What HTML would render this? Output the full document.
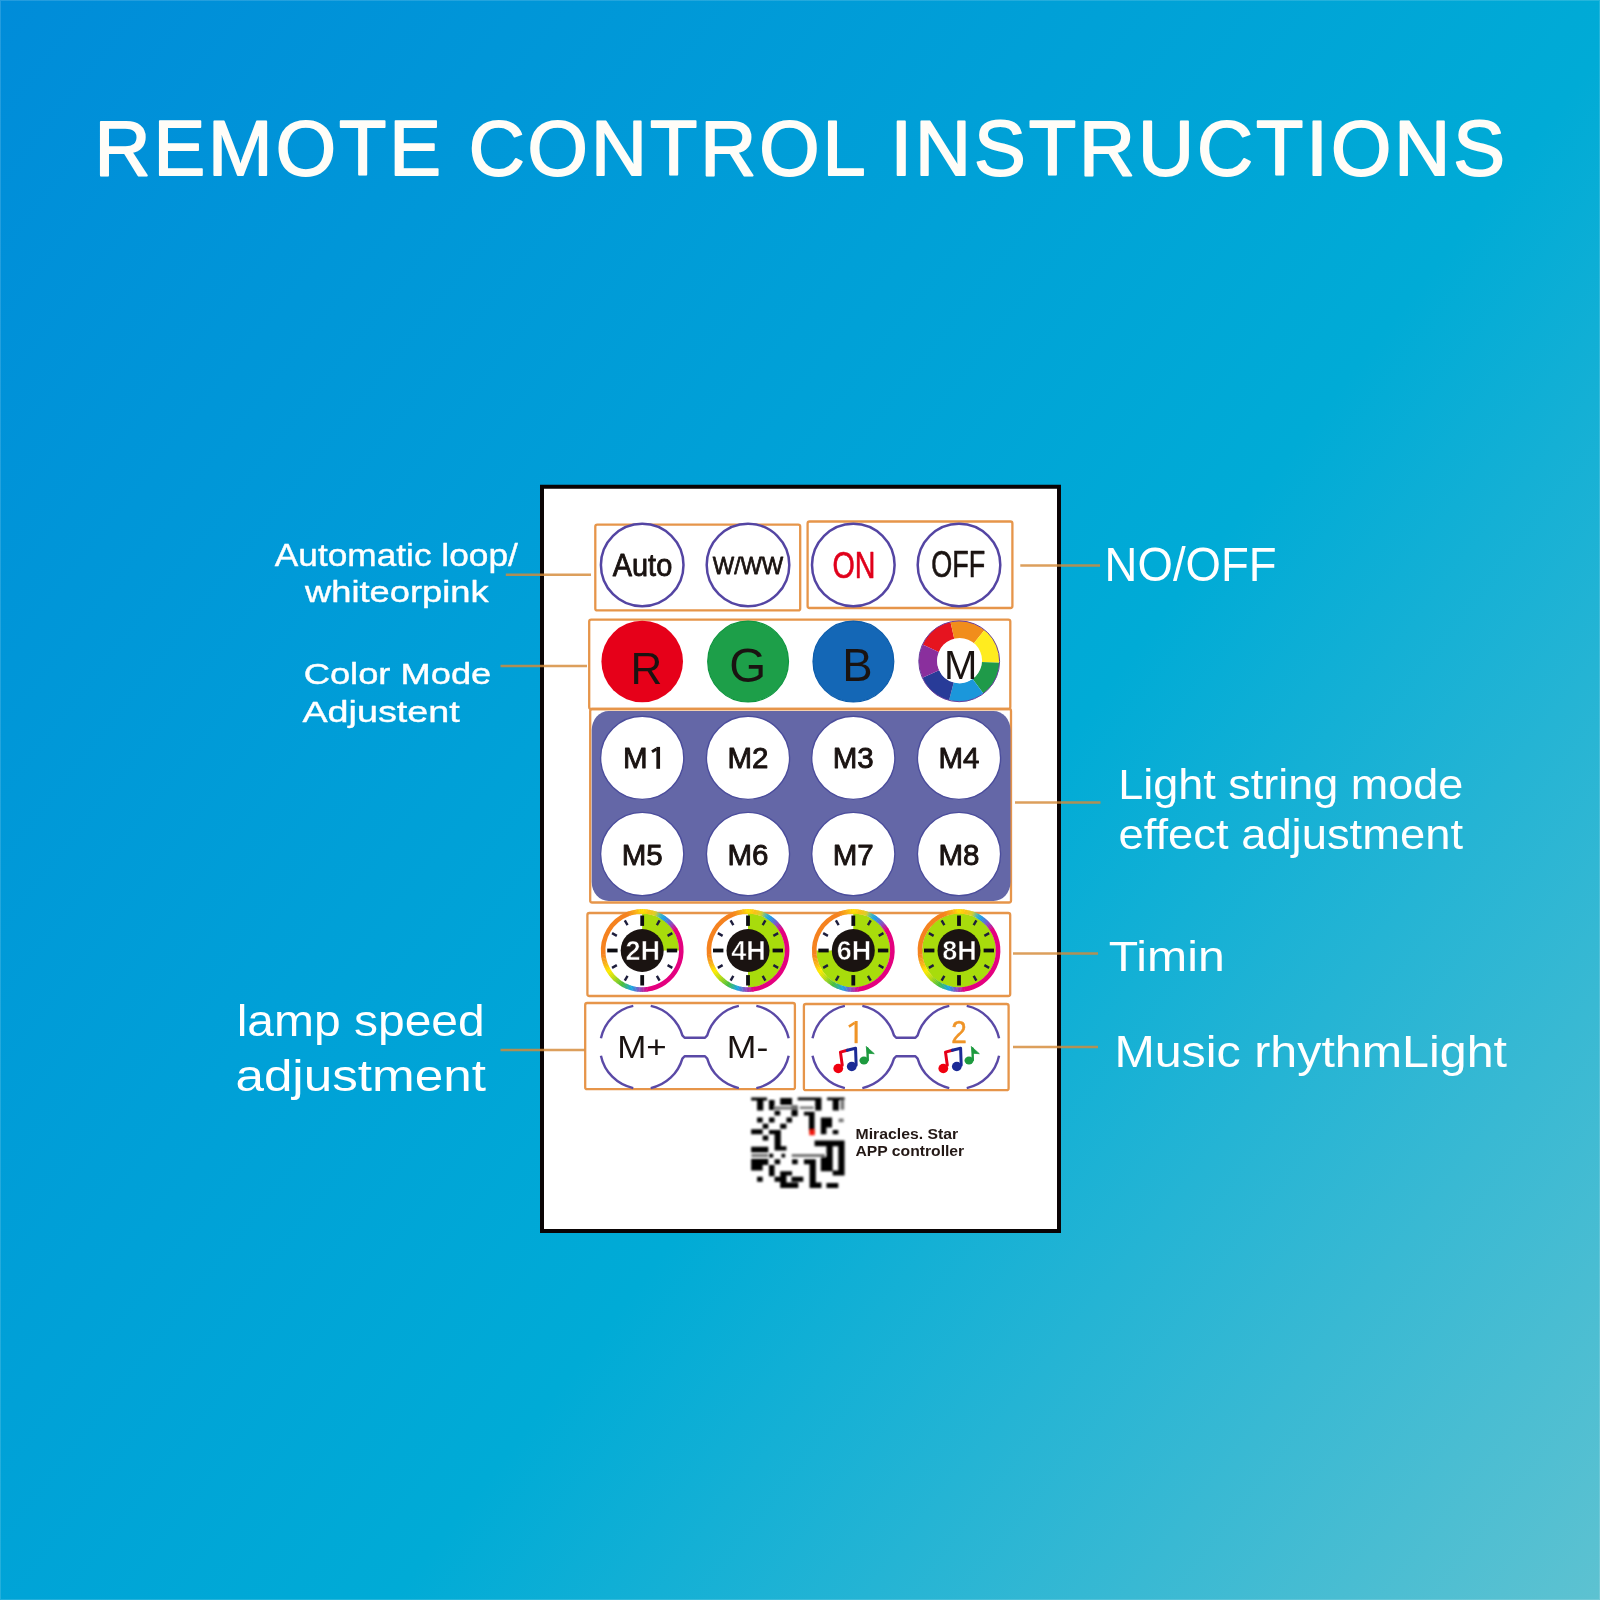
<!DOCTYPE html>
<html>
<head>
<meta charset="utf-8">
<title>Remote Control Instructions</title>
<style>
html,body{margin:0;padding:0;width:1600px;height:1600px;overflow:hidden;background:#00a5d7;}
svg{display:block;position:absolute;left:0;top:0;will-change:transform;}
text{font-family:"Liberation Sans",sans-serif;}
</style>
</head>
<body>
<svg width="1600" height="1600" viewBox="0 0 1600 1600">
<defs>
  <linearGradient id="bg" gradientUnits="userSpaceOnUse" x1="-84.9" y1="108.6" x2="1684.9" y2="1491.4">
    <stop offset="0" stop-color="#008cd9"/>
    <stop offset="0.576" stop-color="#00abd6"/>
    <stop offset="1" stop-color="#5dc2d1"/>
  </linearGradient>
  <g id="ring" fill="none" stroke-width="4.6"><path d="M-0.20,-39.10A39.1,39.1 0 0 1 1.57,-39.07" stroke="#ffde02"/><path d="M1.16,-39.08A39.1,39.1 0 0 1 2.93,-38.99" stroke="#fed707"/><path d="M2.52,-39.02A39.1,39.1 0 0 1 4.29,-38.86" stroke="#fdd10c"/><path d="M3.88,-38.91A39.1,39.1 0 0 1 5.64,-38.69" stroke="#fccb10"/><path d="M5.24,-38.75A39.1,39.1 0 0 1 6.99,-38.47" stroke="#fbc415"/><path d="M6.59,-38.54A39.1,39.1 0 0 1 8.33,-38.20" stroke="#f8c219"/><path d="M7.93,-38.29A39.1,39.1 0 0 1 9.66,-37.89" stroke="#f1c61d"/><path d="M9.26,-37.99A39.1,39.1 0 0 1 10.97,-37.53" stroke="#eac820"/><path d="M10.58,-37.64A39.1,39.1 0 0 1 12.28,-37.12" stroke="#e3cc24"/><path d="M11.89,-37.25A39.1,39.1 0 0 1 13.57,-36.67" stroke="#dcce28"/><path d="M13.18,-36.81A39.1,39.1 0 0 1 14.84,-36.18" stroke="#c6cc3d"/><path d="M14.46,-36.33A39.1,39.1 0 0 1 16.09,-35.64" stroke="#9fc562"/><path d="M15.72,-35.80A39.1,39.1 0 0 1 17.32,-35.05" stroke="#79be88"/><path d="M16.96,-35.23A39.1,39.1 0 0 1 18.54,-34.43" stroke="#52b7ad"/><path d="M18.18,-34.62A39.1,39.1 0 0 1 19.73,-33.76" stroke="#39b0c6"/><path d="M19.37,-33.96A39.1,39.1 0 0 1 20.89,-33.05" stroke="#2ca9d3"/><path d="M20.55,-33.27A39.1,39.1 0 0 1 22.03,-32.30" stroke="#20a2e0"/><path d="M21.69,-32.53A39.1,39.1 0 0 1 23.15,-31.51" stroke="#2299e4"/><path d="M22.82,-31.75A39.1,39.1 0 0 1 24.23,-30.68" stroke="#328dde"/><path d="M23.91,-30.94A39.1,39.1 0 0 1 25.29,-29.82" stroke="#4281da"/><path d="M24.98,-30.08A39.1,39.1 0 0 1 26.31,-28.92" stroke="#5276d4"/><path d="M26.01,-29.19A39.1,39.1 0 0 1 27.31,-27.98" stroke="#626ad0"/><path d="M27.01,-28.27A39.1,39.1 0 0 1 28.27,-27.01" stroke="#725eca"/><path d="M27.98,-27.31A39.1,39.1 0 0 1 29.19,-26.01" stroke="#8351c2"/><path d="M28.92,-26.31A39.1,39.1 0 0 1 30.08,-24.98" stroke="#9442b6"/><path d="M29.82,-25.29A39.1,39.1 0 0 1 30.94,-23.91" stroke="#a633aa"/><path d="M30.68,-24.23A39.1,39.1 0 0 1 31.75,-22.82" stroke="#b8259d"/><path d="M31.51,-23.15A39.1,39.1 0 0 1 32.53,-21.69" stroke="#ca1691"/><path d="M32.30,-22.03A39.1,39.1 0 0 1 33.27,-20.55" stroke="#db0785"/><path d="M33.01,-20.95A39.1,39.1 0 0 1 5.17,38.76" stroke="#e4007f"/><path d="M5.64,38.69A39.1,39.1 0 0 1 3.88,38.91" stroke="#dc0784"/><path d="M4.29,38.86A39.1,39.1 0 0 1 2.52,39.02" stroke="#ce148f"/><path d="M2.93,38.99A39.1,39.1 0 0 1 1.16,39.08" stroke="#be219a"/><path d="M1.57,39.07A39.1,39.1 0 0 1 -0.20,39.10" stroke="#b02fa5"/><path d="M0.20,39.10A39.1,39.1 0 0 1 -1.57,39.07" stroke="#a03cb0"/><path d="M-1.16,39.08A39.1,39.1 0 0 1 -2.93,38.99" stroke="#9249bb"/><path d="M-2.52,39.02A39.1,39.1 0 0 1 -4.29,38.86" stroke="#8157c3"/><path d="M-3.88,38.91A39.1,39.1 0 0 1 -5.64,38.69" stroke="#6e66ca"/><path d="M-5.24,38.75A39.1,39.1 0 0 1 -6.99,38.47" stroke="#5b74d0"/><path d="M-6.59,38.54A39.1,39.1 0 0 1 -8.33,38.20" stroke="#4982d6"/><path d="M-7.93,38.29A39.1,39.1 0 0 1 -9.66,37.89" stroke="#3690dc"/><path d="M-9.26,37.99A39.1,39.1 0 0 1 -10.97,37.53" stroke="#239fe3"/><path d="M-10.58,37.64A39.1,39.1 0 0 1 -12.28,37.12" stroke="#1da8db"/><path d="M-11.89,37.25A39.1,39.1 0 0 1 -13.57,36.67" stroke="#23abc4"/><path d="M-13.18,36.81A39.1,39.1 0 0 1 -14.84,36.18" stroke="#2aaead"/><path d="M-14.46,36.33A39.1,39.1 0 0 1 -16.09,35.64" stroke="#30b296"/><path d="M-15.72,35.80A39.1,39.1 0 0 1 -17.32,35.05" stroke="#36b57f"/><path d="M-16.96,35.23A39.1,39.1 0 0 1 -18.54,34.43" stroke="#3cb868"/><path d="M-18.18,34.62A39.1,39.1 0 0 1 -19.73,33.76" stroke="#43bc51"/><path d="M-19.37,33.96A39.1,39.1 0 0 1 -20.89,33.05" stroke="#49bf3a"/><path d="M-20.55,33.27A39.1,39.1 0 0 1 -22.03,32.30" stroke="#58c335"/><path d="M-21.69,32.53A39.1,39.1 0 0 1 -23.15,31.51" stroke="#67c730"/><path d="M-22.82,31.75A39.1,39.1 0 0 1 -24.23,30.68" stroke="#76cb2c"/><path d="M-23.91,30.94A39.1,39.1 0 0 1 -25.29,29.82" stroke="#85ce27"/><path d="M-24.98,30.08A39.1,39.1 0 0 1 -26.31,28.92" stroke="#94d222"/><path d="M-26.01,29.19A39.1,39.1 0 0 1 -27.31,27.98" stroke="#a3d61d"/><path d="M-27.01,28.27A39.1,39.1 0 0 1 -28.27,27.01" stroke="#b2da18"/><path d="M-27.98,27.31A39.1,39.1 0 0 1 -29.19,26.01" stroke="#bedd14"/><path d="M-28.92,26.31A39.1,39.1 0 0 1 -30.08,24.98" stroke="#c9df11"/><path d="M-29.82,25.29A39.1,39.1 0 0 1 -30.94,23.91" stroke="#d4e10e"/><path d="M-30.68,24.23A39.1,39.1 0 0 1 -31.75,22.82" stroke="#dfe40a"/><path d="M-31.51,23.15A39.1,39.1 0 0 1 -32.53,21.69" stroke="#e9e607"/><path d="M-32.30,22.03A39.1,39.1 0 0 1 -33.27,20.55" stroke="#f4e803"/><path d="M-33.05,20.89A39.1,39.1 0 0 1 -33.96,19.37" stroke="#ffea00"/><path d="M-33.76,19.73A39.1,39.1 0 0 1 -34.62,18.18" stroke="#fee004"/><path d="M-34.43,18.54A39.1,39.1 0 0 1 -35.23,16.96" stroke="#fdd609"/><path d="M-35.05,17.32A39.1,39.1 0 0 1 -35.80,15.72" stroke="#fccd0d"/><path d="M-35.64,16.09A39.1,39.1 0 0 1 -36.33,14.46" stroke="#fbc311"/><path d="M-36.18,14.84A39.1,39.1 0 0 1 -36.81,13.18" stroke="#fab916"/><path d="M-36.67,13.57A39.1,39.1 0 0 1 -37.25,11.89" stroke="#f9b018"/><path d="M-37.12,12.28A39.1,39.1 0 0 1 -37.64,10.58" stroke="#f8a91a"/><path d="M-37.53,10.97A39.1,39.1 0 0 1 -37.99,9.26" stroke="#f8a21a"/><path d="M-37.89,9.66A39.1,39.1 0 0 1 -38.29,7.93" stroke="#f79b1c"/><path d="M-38.20,8.33A39.1,39.1 0 0 1 -38.54,6.59" stroke="#f6941c"/><path d="M-38.47,6.99A39.1,39.1 0 0 1 -38.75,5.24" stroke="#f68d1e"/><path d="M-38.69,5.64A39.1,39.1 0 0 1 -38.91,3.88" stroke="#f5861e"/><path d="M-38.86,4.36A39.1,39.1 0 0 1 -14.39,-36.35" stroke="#f5821f"/><path d="M-14.84,-36.18A39.1,39.1 0 0 1 -13.18,-36.81" stroke="#f5861e"/><path d="M-13.57,-36.67A39.1,39.1 0 0 1 -11.89,-37.25" stroke="#f68d1d"/><path d="M-12.28,-37.12A39.1,39.1 0 0 1 -10.58,-37.64" stroke="#f7951c"/><path d="M-10.97,-37.53A39.1,39.1 0 0 1 -9.26,-37.99" stroke="#f89c1a"/><path d="M-9.66,-37.89A39.1,39.1 0 0 1 -7.93,-38.29" stroke="#f9a319"/><path d="M-8.33,-38.20A39.1,39.1 0 0 1 -6.59,-38.54" stroke="#faab18"/><path d="M-6.99,-38.47A39.1,39.1 0 0 1 -5.24,-38.75" stroke="#fbb217"/><path d="M-5.64,-38.69A39.1,39.1 0 0 1 -3.88,-38.91" stroke="#fcbb13"/><path d="M-4.29,-38.86A39.1,39.1 0 0 1 -2.52,-39.02" stroke="#fcc60e"/><path d="M-2.93,-38.99A39.1,39.1 0 0 1 -1.16,-39.08" stroke="#fed108"/><path d="M-1.57,-39.07A39.1,39.1 0 0 1 0.20,-39.10" stroke="#fedc03"/></g>
  <filter id="qb" x="-5%" y="-5%" width="110%" height="110%"><feGaussianBlur stdDeviation="0.85"/></filter>
</defs>
<rect width="1600" height="1600" fill="url(#bg)"/>
<!-- thin lighter frame on the image edge -->
<rect x="0.5" y="0.5" width="1599" height="1599" fill="none" stroke="#ffffff" stroke-opacity="0.14" stroke-width="1"/>

<!-- TITLE -->
<text x="94.4" y="175" font-size="77.5" fill="#fffdf8" stroke="#fffdf8" stroke-width="1.8" stroke-linejoin="round" textLength="1410.5" lengthAdjust="spacing">REMOTE CONTROL INSTRUCTIONS</text>

<!-- CARD -->
<rect x="542" y="486.75" width="517" height="744.25" fill="#ffffff" stroke="#0a0405" stroke-width="4"/>

<!-- CARD CONTENT -->
<rect x="595.3" y="524.6" width="204.9000000000001" height="85.79999999999995" rx="2" fill="none" stroke="#e6954a" stroke-width="2.3"/>
<rect x="807.6" y="521.5" width="204.79999999999995" height="86.5" rx="2" fill="none" stroke="#e6954a" stroke-width="2.3"/>
<rect x="589.2" y="619.6" width="421.0999999999999" height="89.39999999999998" rx="2" fill="none" stroke="#e6954a" stroke-width="2.3"/>
<rect x="590.2" y="709" width="420.79999999999995" height="193.5" rx="2" fill="none" stroke="#e6954a" stroke-width="2.3"/>
<rect x="587.4" y="913" width="422.80000000000007" height="83" rx="2" fill="none" stroke="#e6954a" stroke-width="2.3"/>
<rect x="585.2" y="1003" width="209.69999999999993" height="86.20000000000005" rx="2" fill="none" stroke="#e6954a" stroke-width="2.3"/>
<rect x="803.9" y="1004" width="204.70000000000005" height="86.20000000000005" rx="2" fill="none" stroke="#e6954a" stroke-width="2.3"/>
<circle cx="642.2" cy="565" r="41.3" fill="#fff" stroke="#5445a3" stroke-width="2.5"/>
<circle cx="748" cy="565" r="41.3" fill="#fff" stroke="#5445a3" stroke-width="2.5"/>
<circle cx="853.3" cy="565" r="41.3" fill="#fff" stroke="#5445a3" stroke-width="2.5"/>
<circle cx="959" cy="565" r="41.3" fill="#fff" stroke="#5445a3" stroke-width="2.5"/>
<text x="642.5" y="576.2" font-size="31" fill="#1a1311" text-anchor="middle" textLength="59.5" lengthAdjust="spacingAndGlyphs" stroke="#1a1311" stroke-width="0.85" stroke-linejoin="round">Auto</text>
<text x="748" y="573.6" font-size="24.5" fill="#1a1311" text-anchor="middle" textLength="70.5" lengthAdjust="spacingAndGlyphs" stroke="#1a1311" stroke-width="0.8" stroke-linejoin="round">W/WW</text>
<text x="854" y="578" font-size="37" fill="#e0001b" text-anchor="middle" textLength="43" lengthAdjust="spacingAndGlyphs" stroke="#e0001b" stroke-width="0.6" stroke-linejoin="round">ON</text>
<text x="958.2" y="577.4" font-size="36" fill="#1a1311" text-anchor="middle" textLength="54" lengthAdjust="spacingAndGlyphs" stroke="#1a1311" stroke-width="0.6" stroke-linejoin="round">OFF</text>
<circle cx="642.2" cy="661.5" r="40.8" fill="#e60019"/>
<circle cx="748.1" cy="661.5" r="40.4" fill="#1d9f49" stroke="#0f9640" stroke-width="1.2"/>
<circle cx="853.4" cy="661.5" r="40.4" fill="#1467b6" stroke="#0b5cac" stroke-width="1.2"/>
<text x="646.5" y="683.6" font-size="44" fill="#1a1311" text-anchor="middle">R</text>
<text x="747.8" y="682.4" font-size="47.5" fill="#1a1311" text-anchor="middle">G</text>
<text x="857.4" y="680.8" font-size="45.5" fill="#1a1311" text-anchor="middle">B</text>
<path d="M922.65,644.57A40.2,40.2 0 0 1 950.50,622.05L954.44,639.82A22,22 0 0 0 939.20,652.14Z" fill="#e6141f"/>
<path d="M950.50,622.05A40.2,40.2 0 0 1 984.50,630.06L973.05,644.20A22,22 0 0 0 954.44,639.82Z" fill="#f18d1b"/>
<path d="M984.50,630.06A40.2,40.2 0 0 1 999.38,662.70L981.19,662.07A22,22 0 0 0 973.05,644.20Z" fill="#ffec1f"/>
<path d="M999.38,662.70A40.2,40.2 0 0 1 983.39,693.41L972.44,678.87A22,22 0 0 0 981.19,662.07Z" fill="#1f9a49"/>
<path d="M983.39,693.41A40.2,40.2 0 0 1 949.13,700.22L953.69,682.60A22,22 0 0 0 972.44,678.87Z" fill="#1b97db"/>
<path d="M949.13,700.22A40.2,40.2 0 0 1 922.48,677.65L939.10,670.25A22,22 0 0 0 953.69,682.60Z" fill="#283b98"/>
<path d="M922.48,677.65A40.2,40.2 0 0 1 922.65,644.57L939.20,652.14A22,22 0 0 0 939.10,670.25Z" fill="#8a2f9d"/>
<circle cx="959.2" cy="661.3" r="40.4" fill="none" stroke="#6a3f9e" stroke-width="1"/>
<circle cx="959.6" cy="660.5" r="22.5" fill="#fff"/>
<text x="960.6" y="679.4" font-size="40" fill="#1a1311" text-anchor="middle">M</text>
<rect x="591.7" y="711" width="418.8" height="190" rx="17" ry="19" fill="#6467a7"/>
<circle cx="642.2" cy="757.8" r="41.6" fill="#fff" stroke="#4b4d9c" stroke-width="1.4"/>
<text x="635.3000000000001" y="768.4" font-size="29.5" fill="#1a1311" text-anchor="middle" stroke="#1a1311" stroke-width="0.9" stroke-linejoin="round">M</text>
<path d="M652.00,751.74L656.55,748.93" stroke="#1a1311" stroke-width="3.03" fill="none" stroke-linecap="butt"/><rect x="656.35" y="746.90" width="3.7" height="21.90" fill="#1a1311"/>
<circle cx="748" cy="757.8" r="41.6" fill="#fff" stroke="#4b4d9c" stroke-width="1.4"/>
<text x="748" y="768.4" font-size="29.5" fill="#1a1311" text-anchor="middle" stroke="#1a1311" stroke-width="0.9" stroke-linejoin="round">M2</text>
<circle cx="853.3" cy="757.8" r="41.6" fill="#fff" stroke="#4b4d9c" stroke-width="1.4"/>
<text x="853.3" y="768.4" font-size="29.5" fill="#1a1311" text-anchor="middle" stroke="#1a1311" stroke-width="0.9" stroke-linejoin="round">M3</text>
<circle cx="959" cy="757.8" r="41.6" fill="#fff" stroke="#4b4d9c" stroke-width="1.4"/>
<text x="959" y="768.4" font-size="29.5" fill="#1a1311" text-anchor="middle" stroke="#1a1311" stroke-width="0.9" stroke-linejoin="round">M4</text>
<circle cx="642.2" cy="854" r="41.6" fill="#fff" stroke="#4b4d9c" stroke-width="1.4"/>
<text x="642.2" y="864.6" font-size="29.5" fill="#1a1311" text-anchor="middle" stroke="#1a1311" stroke-width="0.9" stroke-linejoin="round">M5</text>
<circle cx="748" cy="854" r="41.6" fill="#fff" stroke="#4b4d9c" stroke-width="1.4"/>
<text x="748" y="864.6" font-size="29.5" fill="#1a1311" text-anchor="middle" stroke="#1a1311" stroke-width="0.9" stroke-linejoin="round">M6</text>
<circle cx="853.3" cy="854" r="41.6" fill="#fff" stroke="#4b4d9c" stroke-width="1.4"/>
<text x="853.3" y="864.6" font-size="29.5" fill="#1a1311" text-anchor="middle" stroke="#1a1311" stroke-width="0.9" stroke-linejoin="round">M7</text>
<circle cx="959" cy="854" r="41.6" fill="#fff" stroke="#4b4d9c" stroke-width="1.4"/>
<text x="959" y="864.6" font-size="29.5" fill="#1a1311" text-anchor="middle" stroke="#1a1311" stroke-width="0.9" stroke-linejoin="round">M8</text>
<path d="M642.2,950.5L642.2,913.5A37,37 0 0 1 679.20,950.50Z" fill="#a8dc0c"/>
<use href="#ring" x="642.2" y="950.5"/>
<line x1="642.20" y1="925.90" x2="642.20" y2="915.50" stroke="#0d0d12" stroke-width="3.8"/>
<line x1="656.85" y1="925.13" x2="659.60" y2="920.36" stroke="#1d1d3c" stroke-width="2.4"/>
<line x1="667.57" y1="935.85" x2="672.34" y2="933.10" stroke="#1d1d3c" stroke-width="2.4"/>
<line x1="666.80" y1="950.50" x2="677.20" y2="950.50" stroke="#0d0d12" stroke-width="3.8"/>
<line x1="667.57" y1="965.15" x2="672.34" y2="967.90" stroke="#1d1d3c" stroke-width="2.4"/>
<line x1="656.85" y1="975.87" x2="659.60" y2="980.64" stroke="#1d1d3c" stroke-width="2.4"/>
<line x1="642.20" y1="975.10" x2="642.20" y2="985.50" stroke="#0d0d12" stroke-width="3.8"/>
<line x1="627.55" y1="975.87" x2="624.80" y2="980.64" stroke="#1d1d3c" stroke-width="2.4"/>
<line x1="616.83" y1="965.15" x2="612.06" y2="967.90" stroke="#1d1d3c" stroke-width="2.4"/>
<line x1="617.60" y1="950.50" x2="607.20" y2="950.50" stroke="#0d0d12" stroke-width="3.8"/>
<line x1="616.83" y1="935.85" x2="612.06" y2="933.10" stroke="#1d1d3c" stroke-width="2.4"/>
<line x1="627.55" y1="925.13" x2="624.80" y2="920.36" stroke="#1d1d3c" stroke-width="2.4"/>
<circle cx="642.2" cy="950.5" r="21.5" fill="#1a1311"/>
<text x="642.8000000000001" y="960.4" font-size="27" fill="#fff" text-anchor="middle" font-weight="bold" textLength="34.5" lengthAdjust="spacingAndGlyphs" stroke="#1a1311" stroke-width="0.55" stroke-linejoin="round">2H</text>
<path d="M748,950.5L748,913.5A37,37 0 0 1 748.00,987.50Z" fill="#a8dc0c"/>
<use href="#ring" x="748" y="950.5"/>
<line x1="748.00" y1="925.90" x2="748.00" y2="915.50" stroke="#0d0d12" stroke-width="3.8"/>
<line x1="762.65" y1="925.13" x2="765.40" y2="920.36" stroke="#1d1d3c" stroke-width="2.4"/>
<line x1="773.37" y1="935.85" x2="778.14" y2="933.10" stroke="#1d1d3c" stroke-width="2.4"/>
<line x1="772.60" y1="950.50" x2="783.00" y2="950.50" stroke="#0d0d12" stroke-width="3.8"/>
<line x1="773.37" y1="965.15" x2="778.14" y2="967.90" stroke="#1d1d3c" stroke-width="2.4"/>
<line x1="762.65" y1="975.87" x2="765.40" y2="980.64" stroke="#1d1d3c" stroke-width="2.4"/>
<line x1="748.00" y1="975.10" x2="748.00" y2="985.50" stroke="#0d0d12" stroke-width="3.8"/>
<line x1="733.35" y1="975.87" x2="730.60" y2="980.64" stroke="#1d1d3c" stroke-width="2.4"/>
<line x1="722.63" y1="965.15" x2="717.86" y2="967.90" stroke="#1d1d3c" stroke-width="2.4"/>
<line x1="723.40" y1="950.50" x2="713.00" y2="950.50" stroke="#0d0d12" stroke-width="3.8"/>
<line x1="722.63" y1="935.85" x2="717.86" y2="933.10" stroke="#1d1d3c" stroke-width="2.4"/>
<line x1="733.35" y1="925.13" x2="730.60" y2="920.36" stroke="#1d1d3c" stroke-width="2.4"/>
<circle cx="748" cy="950.5" r="21.5" fill="#1a1311"/>
<text x="748.6" y="960.4" font-size="27" fill="#fff" text-anchor="middle" font-weight="bold" textLength="34.5" lengthAdjust="spacingAndGlyphs" stroke="#1a1311" stroke-width="0.55" stroke-linejoin="round">4H</text>
<path d="M853.3,950.5L853.3,913.5A37,37 0 1 1 816.30,950.50Z" fill="#a8dc0c"/>
<use href="#ring" x="853.3" y="950.5"/>
<line x1="853.30" y1="925.90" x2="853.30" y2="915.50" stroke="#0d0d12" stroke-width="3.8"/>
<line x1="867.95" y1="925.13" x2="870.70" y2="920.36" stroke="#1d1d3c" stroke-width="2.4"/>
<line x1="878.67" y1="935.85" x2="883.44" y2="933.10" stroke="#1d1d3c" stroke-width="2.4"/>
<line x1="877.90" y1="950.50" x2="888.30" y2="950.50" stroke="#0d0d12" stroke-width="3.8"/>
<line x1="878.67" y1="965.15" x2="883.44" y2="967.90" stroke="#1d1d3c" stroke-width="2.4"/>
<line x1="867.95" y1="975.87" x2="870.70" y2="980.64" stroke="#1d1d3c" stroke-width="2.4"/>
<line x1="853.30" y1="975.10" x2="853.30" y2="985.50" stroke="#0d0d12" stroke-width="3.8"/>
<line x1="838.65" y1="975.87" x2="835.90" y2="980.64" stroke="#1d1d3c" stroke-width="2.4"/>
<line x1="827.93" y1="965.15" x2="823.16" y2="967.90" stroke="#1d1d3c" stroke-width="2.4"/>
<line x1="828.70" y1="950.50" x2="818.30" y2="950.50" stroke="#0d0d12" stroke-width="3.8"/>
<line x1="827.93" y1="935.85" x2="823.16" y2="933.10" stroke="#1d1d3c" stroke-width="2.4"/>
<line x1="838.65" y1="925.13" x2="835.90" y2="920.36" stroke="#1d1d3c" stroke-width="2.4"/>
<circle cx="853.3" cy="950.5" r="21.5" fill="#1a1311"/>
<text x="853.9" y="960.4" font-size="27" fill="#fff" text-anchor="middle" font-weight="bold" textLength="34.5" lengthAdjust="spacingAndGlyphs" stroke="#1a1311" stroke-width="0.55" stroke-linejoin="round">6H</text>
<circle cx="959" cy="950.5" r="37" fill="#a8dc0c"/>
<use href="#ring" x="959" y="950.5"/>
<line x1="959.00" y1="925.90" x2="959.00" y2="915.50" stroke="#0d0d12" stroke-width="3.8"/>
<line x1="973.65" y1="925.13" x2="976.40" y2="920.36" stroke="#1d1d3c" stroke-width="2.4"/>
<line x1="984.37" y1="935.85" x2="989.14" y2="933.10" stroke="#1d1d3c" stroke-width="2.4"/>
<line x1="983.60" y1="950.50" x2="994.00" y2="950.50" stroke="#0d0d12" stroke-width="3.8"/>
<line x1="984.37" y1="965.15" x2="989.14" y2="967.90" stroke="#1d1d3c" stroke-width="2.4"/>
<line x1="973.65" y1="975.87" x2="976.40" y2="980.64" stroke="#1d1d3c" stroke-width="2.4"/>
<line x1="959.00" y1="975.10" x2="959.00" y2="985.50" stroke="#0d0d12" stroke-width="3.8"/>
<line x1="944.35" y1="975.87" x2="941.60" y2="980.64" stroke="#1d1d3c" stroke-width="2.4"/>
<line x1="933.63" y1="965.15" x2="928.86" y2="967.90" stroke="#1d1d3c" stroke-width="2.4"/>
<line x1="934.40" y1="950.50" x2="924.00" y2="950.50" stroke="#0d0d12" stroke-width="3.8"/>
<line x1="933.63" y1="935.85" x2="928.86" y2="933.10" stroke="#1d1d3c" stroke-width="2.4"/>
<line x1="944.35" y1="925.13" x2="941.60" y2="920.36" stroke="#1d1d3c" stroke-width="2.4"/>
<circle cx="959" cy="950.5" r="21.5" fill="#1a1311"/>
<text x="959.6" y="960.4" font-size="27" fill="#fff" text-anchor="middle" font-weight="bold" textLength="34.5" lengthAdjust="spacingAndGlyphs" stroke="#1a1311" stroke-width="0.55" stroke-linejoin="round">8H</text>
<path d="M650.73,1005.92A42,42 0 0 1 682.37,1035.42L684.58,1037.75L705.02,1037.75L707.23,1035.42A42,42 0 0 1 738.87,1005.92M650.73,1088.08A42,42 0 0 0 682.37,1058.58L684.58,1056.25L705.02,1056.25L707.23,1058.58A42,42 0 0 0 738.87,1088.08M633.27,1005.92A42,42 0 0 0 600.92,1038.27M600.92,1055.73A42,42 0 0 0 633.27,1088.08M756.33,1005.92A42,42 0 0 1 788.68,1038.27M788.68,1055.73A42,42 0 0 1 756.33,1088.08" fill="none" stroke="#5a49a6" stroke-width="2.4" stroke-linejoin="round"/>
<path d="M862.33,1005.92A42,42 0 0 1 893.97,1035.42L896.18,1037.75L915.42,1037.75L917.63,1035.42A42,42 0 0 1 949.27,1005.92M862.33,1088.08A42,42 0 0 0 893.97,1058.58L896.18,1056.25L915.42,1056.25L917.63,1058.58A42,42 0 0 0 949.27,1088.08M844.87,1005.92A42,42 0 0 0 812.52,1038.27M812.52,1055.73A42,42 0 0 0 844.87,1088.08M966.73,1005.92A42,42 0 0 1 999.08,1038.27M999.08,1055.73A42,42 0 0 1 966.73,1088.08" fill="none" stroke="#5a49a6" stroke-width="2.4" stroke-linejoin="round"/>
<text x="642" y="1058.3" font-size="31" fill="#1a1311" text-anchor="middle" textLength="49.5" lengthAdjust="spacingAndGlyphs">M+</text>
<text x="747.5" y="1058.3" font-size="31" fill="#1a1311" text-anchor="middle" textLength="41.5" lengthAdjust="spacingAndGlyphs">M-</text>
<path d="M848.90,1026.62L854.75,1022.71" stroke="#ef9427" stroke-width="2.54" fill="none" stroke-linecap="butt"/><rect x="854.55" y="1021.00" width="3.1" height="22.20" fill="#ef9427"/>
<text x="958.9" y="1043" font-size="31" fill="#ef9427" text-anchor="middle" textLength="15.5" lengthAdjust="spacingAndGlyphs" stroke="#ef9427" stroke-width="0.5" stroke-linejoin="round">2</text>
<g transform="translate(838.25,1068.5)" stroke-linejoin="round" stroke-linecap="round" fill="none"><path d="M4,-3.2L2.2,-16.4L9,-18.2" stroke="#e60019" stroke-width="3"/><path d="M9,-18.2L17.3,-20.3L17.9,-3.4" stroke="#1b2a96" stroke-width="3"/><ellipse cx="0" cy="0" rx="4.9" ry="4.7" fill="#f0000f" stroke="none"/><ellipse cx="13.5" cy="-2" rx="4.9" ry="4.7" fill="#1b2a96" stroke="none"/><ellipse cx="25.7" cy="-8" rx="4.5" ry="4" fill="#1d9a3f" stroke="none"/><path d="M29.5,-8.5L29.2,-20" stroke="#1d9a3f" stroke-width="2.4"/><path d="M28.2,-21.8L36,-14.8L29.6,-15.2Z" fill="#1d9a3f" stroke="#1d9a3f" stroke-width="0.8"/></g>
<g transform="translate(943.3,1068.5)" stroke-linejoin="round" stroke-linecap="round" fill="none"><path d="M4,-3.2L2.2,-16.4L9,-18.2" stroke="#e60019" stroke-width="3"/><path d="M9,-18.2L17.3,-20.3L17.9,-3.4" stroke="#1b2a96" stroke-width="3"/><ellipse cx="0" cy="0" rx="4.9" ry="4.7" fill="#f0000f" stroke="none"/><ellipse cx="13.5" cy="-2" rx="4.9" ry="4.7" fill="#1b2a96" stroke="none"/><ellipse cx="25.7" cy="-8" rx="4.5" ry="4" fill="#1d9a3f" stroke="none"/><path d="M29.5,-8.5L29.2,-20" stroke="#1d9a3f" stroke-width="2.4"/><path d="M28.2,-21.8L36,-14.8L29.6,-15.2Z" fill="#1d9a3f" stroke="#1d9a3f" stroke-width="0.8"/></g>
<g filter="url(#qb)">
<path d="M751.14,1097.45h15.91v3.10h-15.91zM757.08,1097.45h6.22v13.10h-6.22zM768.95,1099.95h5.60v9.97h-5.60zM780.20,1098.08h11.85v6.85h-11.85zM791.45,1105.58h6.22v10.60h-6.22zM797.70,1097.45h23.73v2.79h-23.73zM815.20,1097.45h6.22v13.10h-6.22zM827.08,1097.45h17.48v2.79h-17.48zM832.70,1097.45h6.22v13.10h-6.22zM774.58,1110.58h5.60v4.97h-5.60zM803.95,1111.83h10.60v3.73h-10.60zM808.95,1111.83h5.60v19.35h-5.60zM757.08,1117.45h5.60v4.97h-5.60zM768.95,1117.45h5.60v4.97h-5.60zM786.45,1117.45h5.60v4.97h-5.60zM820.83,1117.45h11.22v4.97h-11.22zM820.83,1117.45h5.60v16.85h-5.60zM826.45,1121.83h5.60v5.60h-5.60zM762.70,1123.70h5.60v4.97h-5.60zM780.20,1123.70h6.22v4.97h-6.22zM751.14,1129.33h11.54v4.97h-11.54zM768.95,1129.95h11.85v4.35h-11.85zM774.58,1129.95h6.22v20.60h-6.22zM832.70,1129.95h5.60v4.35h-5.60zM762.70,1135.58h5.60v4.97h-5.60zM814.58,1140.58h29.98v5.60h-29.98zM826.45,1145.58h6.22v25.60h-6.22zM838.33,1145.58h6.22v29.35h-6.22zM774.58,1146.20h11.85v4.35h-11.85zM751.14,1146.83h17.16v5.60h-17.16zM751.14,1158.70h17.16v6.22h-17.16zM751.14,1164.33h11.54v6.22h-11.54zM774.58,1159.33h5.60v4.97h-5.60zM792.08,1159.33h5.60v4.97h-5.60zM803.95,1159.33h11.85v4.97h-11.85zM809.58,1159.33h6.22v28.73h-6.22zM820.83,1156.83h11.85v14.35h-11.85zM768.95,1164.95h5.60v11.22h-5.60zM780.20,1171.20h11.85v4.35h-11.85zM832.70,1170.58h11.85v4.97h-11.85zM757.08,1176.83h5.60v4.97h-5.60zM774.58,1176.83h11.85v4.97h-11.85zM780.20,1174.95h6.22v13.10h-6.22zM791.45,1176.83h11.85v4.97h-11.85zM780.20,1182.45h18.10v5.60h-18.10zM809.58,1182.45h11.85v5.60h-11.85zM826.45,1183.08h11.85v4.97h-11.85zM768.95,1153.70h4.35v3.73h-4.35zM781.45,1153.70h3.73v3.73h-3.73z" fill="#000"/>
<path d="M774.25,1106.50h23.75v3.12h-23.75zM799.88,1106.50h13.75v2.50h-13.75zM751.44,1154.00h16.56v3.12h-16.56zM791.75,1154.00h33.12v3.12h-33.12zM840.50,1100.25h3.75v9.38h-3.75zM838.62,1118.38h5.00v3.75h-5.00z" fill="#777"/>
<rect x="809.25" y="1129.62" width="5.6" height="5.6" fill="#f01808"/>
</g>
<text x="855.5" y="1139" font-size="14.7" fill="#231815" font-weight="bold" textLength="102.7" lengthAdjust="spacingAndGlyphs">Miracles. Star</text>
<text x="855.5" y="1155.5" font-size="14.7" fill="#231815" font-weight="bold" textLength="108.7" lengthAdjust="spacingAndGlyphs">APP controller</text>

<!-- LABELS -->
<line x1="505.8" y1="574.8" x2="591" y2="574.8" stroke="#d48a38" stroke-opacity="0.82" stroke-width="2.5"/>
<line x1="500.5" y1="665.9" x2="587" y2="665.9" stroke="#d48a38" stroke-opacity="0.82" stroke-width="2.5"/>
<line x1="500.5" y1="1050" x2="584.5" y2="1050" stroke="#d48a38" stroke-opacity="0.82" stroke-width="2.5"/>
<line x1="1020.3" y1="565.5" x2="1100" y2="565.5" stroke="#d48a38" stroke-opacity="0.82" stroke-width="2.5"/>
<line x1="1015" y1="802.6" x2="1100.5" y2="802.6" stroke="#d48a38" stroke-opacity="0.82" stroke-width="2.5"/>
<line x1="1013" y1="953.6" x2="1098" y2="953.6" stroke="#d48a38" stroke-opacity="0.82" stroke-width="2.5"/>
<line x1="1013" y1="1047" x2="1098" y2="1047" stroke="#d48a38" stroke-opacity="0.82" stroke-width="2.5"/>
<text x="274.8" y="565.8" font-size="31.5" fill="#ffffff" textLength="243" lengthAdjust="spacingAndGlyphs" stroke="#ffffff" stroke-width="0.4" stroke-linejoin="round">Automatic loop/</text>
<text x="305" y="602.4" font-size="29.3" fill="#ffffff" textLength="183.7" lengthAdjust="spacingAndGlyphs" stroke="#ffffff" stroke-width="0.4" stroke-linejoin="round">whiteorpink</text>
<text x="303.7" y="683.7" font-size="29.3" fill="#ffffff" textLength="187.6" lengthAdjust="spacingAndGlyphs" stroke="#ffffff" stroke-width="0.4" stroke-linejoin="round">Color Mode</text>
<text x="302.4" y="721.8" font-size="29.3" fill="#ffffff" textLength="157.4" lengthAdjust="spacingAndGlyphs" stroke="#ffffff" stroke-width="0.4" stroke-linejoin="round">Adjustent</text>
<text x="236.7" y="1036" font-size="44" fill="#ffffff" textLength="248" lengthAdjust="spacingAndGlyphs">lamp speed</text>
<text x="235.4" y="1091.2" font-size="44" fill="#ffffff" textLength="250.6" lengthAdjust="spacingAndGlyphs">adjustment</text>
<text x="1104.6" y="580.5" font-size="48" fill="#ffffff" textLength="172" lengthAdjust="spacingAndGlyphs">NO/OFF</text>
<text x="1118.3" y="798.8" font-size="43" fill="#ffffff" textLength="345" lengthAdjust="spacingAndGlyphs">Light string mode</text>
<text x="1118.5" y="848.7" font-size="43" fill="#ffffff" textLength="344.5" lengthAdjust="spacingAndGlyphs">effect adjustment</text>
<text x="1108.7" y="970.5" font-size="43.4" fill="#ffffff" textLength="116" lengthAdjust="spacingAndGlyphs">Timin</text>
<text x="1114.4" y="1066.9" font-size="44" fill="#ffffff" textLength="392.6" lengthAdjust="spacingAndGlyphs">Music rhythmLight</text>
</svg>
</body>
</html>
